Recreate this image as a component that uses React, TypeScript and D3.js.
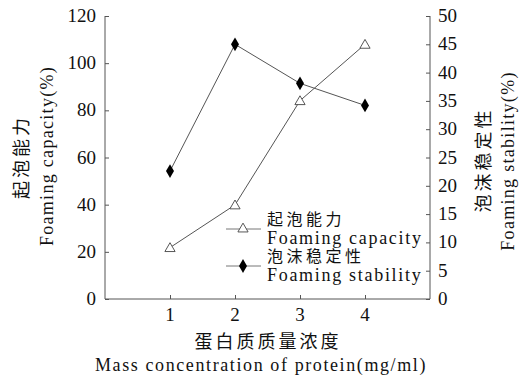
import React, { useEffect, useRef } from 'react';
import * as d3 from 'd3';

// data
const concentrations = [1, 2, 3, 4];
const foamingCapacity = [21.8, 39.9, 84.1, 108];
const foamingStability = [22.6, 45.0, 38.1, 34.2];
const leftTicks = [0, 20, 40, 60, 80, 100, 120];
const rightTicks = [0, 5, 10, 15, 20, 25, 30, 35, 40, 45, 50];
const xTicks = [1, 2, 3, 4];

const serif = '"Liberation Serif", "Times New Roman", serif';
const cjk = '"Noto Sans CJK SC", sans-serif';

const App = () => {
  const ref = useRef<SVGSVGElement>(null);

  useEffect(() => {
    const width = 527;
    const height = 378;
    const left = 105, right = 430, top = 16, bottom = 299;

    const svg = d3.select(ref.current);
    svg.selectAll('*').remove();

    const x = d3.scaleLinear().domain([0, 5]).range([left, right]);
    const yL = d3.scaleLinear().domain([0, 120]).range([bottom, top]);
    const yR = d3.scaleLinear().domain([0, 50]).range([bottom, top]);

    svg.append('rect').attr('width', width).attr('height', height).attr('fill', '#fff');

    // axes, ticks pointing inward
    const axisColor = '#555';
    const gl = svg.append('g').attr('transform', `translate(${left},0)`)
      .call(d3.axisRight(yL).tickValues(leftTicks).tickSize(4).tickFormat(() => ''));
    const gr = svg.append('g').attr('transform', `translate(${right},0)`)
      .call(d3.axisLeft(yR).tickValues(rightTicks).tickSize(4).tickFormat(() => ''));
    const gb = svg.append('g').attr('transform', `translate(0,${bottom})`)
      .call(d3.axisTop(x).tickValues(xTicks).tickSize(4).tickFormat(() => ''));
    [gl, gr, gb].forEach(g => {
      g.select('.domain').attr('stroke', axisColor);
      g.selectAll('.tick line').attr('stroke', axisColor);
    });
    gl.select('.domain').attr('d', `M0,${top}V${bottom}`);
    gr.select('.domain').attr('d', `M0,${top}V${bottom}`);
    gb.select('.domain').attr('d', `M${left},0H${right}`);

    // tick labels
    const tl = svg.append('g').attr('font-family', serif).attr('font-size', 19).attr('fill', '#111');
    tl.selectAll('.l').data(leftTicks).enter().append('text')
      .attr('x', left - 9).attr('y', d => yL(d) + 6).attr('text-anchor', 'end').text(d => d);
    tl.selectAll('.r').data(rightTicks).enter().append('text')
      .attr('x', right + 8).attr('y', d => yR(d) + 6).attr('text-anchor', 'start').text(d => d);
    tl.selectAll('.b').data(xTicks).enter().append('text')
      .attr('x', d => x(d)).attr('y', bottom + 22).attr('text-anchor', 'middle').text(d => d);

    // series
    const lineCap = d3.line<number>().x((d, i) => x(concentrations[i])).y(d => yL(d));
    const lineStab = d3.line<number>().x((d, i) => x(concentrations[i])).y(d => yR(d));
    svg.append('path').attr('d', lineCap(foamingCapacity)).attr('fill', 'none')
      .attr('stroke', '#555').attr('stroke-width', 1);
    svg.append('path').attr('d', lineStab(foamingStability)).attr('fill', 'none')
      .attr('stroke', '#555').attr('stroke-width', 1);

    const tri = d3.symbol().type(d3.symbolTriangle).size(45);
    const dia = d3.symbol().type(d3.symbolDiamond).size(55);
    svg.selectAll('.cap').data(foamingCapacity).enter().append('path')
      .attr('d', tri).attr('transform', (d, i) => `translate(${x(concentrations[i])},${yL(d) + 1})`)
      .attr('fill', '#fff').attr('stroke', '#444').attr('stroke-width', 0.9);
    svg.selectAll('.stab').data(foamingStability).enter().append('path')
      .attr('d', dia).attr('transform', (d, i) => `translate(${x(concentrations[i])},${yR(d)})`)
      .attr('fill', '#000');

    // legend
    const lg = svg.append('g');
    const legendItems = [
      { zh: '起泡能力', en: 'Foaming capacity', sym: 'tri', y: 229 },
      { zh: '泡沫稳定性', en: 'Foaming stability', sym: 'dia', y: 266 },
    ];
    legendItems.forEach(it => {
      lg.append('line').attr('x1', 226).attr('x2', 261).attr('y1', it.y).attr('y2', it.y)
        .attr('stroke', '#777').attr('stroke-width', 1);
      if (it.sym === 'tri') {
        lg.append('path').attr('d', tri).attr('transform', `translate(243,${it.y})`)
          .attr('fill', '#fff').attr('stroke', '#444').attr('stroke-width', 0.9);
      } else {
        lg.append('path').attr('d', dia).attr('transform', `translate(243,${it.y})`).attr('fill', '#000');
      }
      lg.append('text').attr('x', 267).attr('y', it.y - 4).attr('font-family', cjk)
        .attr('font-size', 16).attr('letter-spacing', 3.5).attr('fill', '#111').text(it.zh);
      lg.append('text').attr('x', 267).attr('y', it.y + 15).attr('font-family', serif)
        .attr('font-size', 18).attr('letter-spacing', 1.7).attr('fill', '#111').text(it.en);
    });

    // axis titles
    svg.append('text').attr('transform', 'translate(28,157) rotate(-90)').attr('text-anchor', 'middle')
      .attr('font-family', cjk).attr('font-size', 18).attr('letter-spacing', 3).attr('fill', '#111').text('起泡能力');
    svg.append('text').attr('transform', 'translate(53,156) rotate(-90)').attr('text-anchor', 'middle')
      .attr('font-family', serif).attr('font-size', 18).attr('letter-spacing', 1.3).attr('fill', '#111').text('Foaming capacity(%)');
    svg.append('text').attr('transform', 'translate(490,160) rotate(-90)').attr('text-anchor', 'middle')
      .attr('font-family', cjk).attr('font-size', 18).attr('letter-spacing', 3).attr('fill', '#111').text('泡沫稳定性');
    svg.append('text').attr('transform', 'translate(514,161) rotate(-90)').attr('text-anchor', 'middle')
      .attr('font-family', serif).attr('font-size', 18).attr('letter-spacing', 1.3).attr('fill', '#111').text('Foaming stability(%)');
    svg.append('text').attr('x', 268).attr('y', 348).attr('text-anchor', 'middle')
      .attr('font-family', cjk).attr('font-size', 18).attr('letter-spacing', 3).attr('fill', '#111').text('蛋白质质量浓度');
    svg.append('text').attr('x', 261).attr('y', 371).attr('text-anchor', 'middle')
      .attr('font-family', serif).attr('font-size', 18).attr('letter-spacing', 1.6).attr('fill', '#111').text('Mass concentration of protein(mg/ml)');
  }, []);

  return (
    <svg ref={ref} width={527} height={378}
      style={{ position: 'absolute', left: 0, top: 0, display: 'block' }} />
  );
};

export default App;
